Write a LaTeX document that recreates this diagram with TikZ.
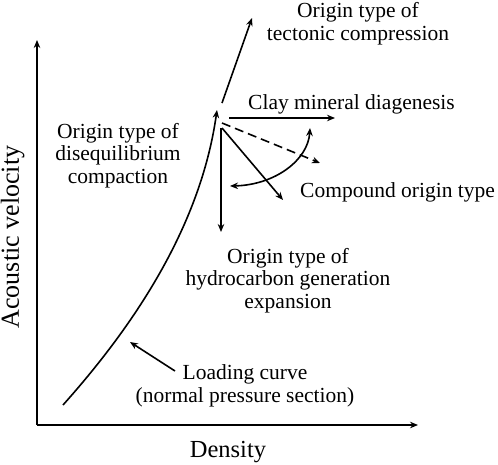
\documentclass[tikz,border=0pt]{standalone}
\usepackage{fontspec}
\setmainfont{Liberation Serif}
\usetikzlibrary{arrows.meta}
\begin{document}
\begin{tikzpicture}[x=1pt,y=-1pt,
  lbl/.style={inner sep=0pt,align=center,font=\fontsize{21.5}{22.5}\selectfont},
  axlbl/.style={inner sep=0pt,font=\fontsize{24.5}{26}\selectfont},
  conn/.style={line width=1.6pt,-{Stealth[length=8pt,width=6.5pt]}},
  axis/.style={line width=1.8pt,-{Stealth[length=8pt,width=6.5pt]}}]
\useasboundingbox (0,0) rectangle (498,464);
% axes
\coordinate (o) at (37,425);
\coordinate (ytop) at (37,40);
\coordinate (xend) at (418,425);
\draw[axis] (o) -- (ytop);
\draw[axis] (o) -- (xend);
\node[axlbl,anchor=base] (dens) at (228,457) {Density};
\node[axlbl,rotate=90,anchor=base,font=\fontsize{26}{28}\selectfont] (vel) at (19,237) {Acoustic velocity};
% loading curve
\coordinate (c0) at (63,405);
\coordinate (c1) at (217,110);
\draw[conn] (c0) .. controls (130,330) and (200,230) .. (c1);
% arrows from the cusp
\coordinate (t0) at (222,103);
\coordinate (t1) at (252,18);
\draw[conn] (t0) -- (t1);
\coordinate (cl0) at (229,118);
\coordinate (cl1) at (335,118);
\draw[conn] (cl0) -- (cl1);
\coordinate (d0) at (222,123);
\coordinate (d1) at (320,163);
\draw[conn,dashed,dash pattern=on 9pt off 5pt] (d0) -- (d1);
\coordinate (v0) at (221,128);
\coordinate (v1) at (221,232);
\draw[conn] (v0) -- (v1);
\coordinate (g0) at (222,128);
\coordinate (g1) at (283,200);
\draw[conn] (g0) -- (g1);
\coordinate (a0) at (230,186);
\coordinate (a1) at (310,128);
\draw[conn,{Stealth[length=8pt,width=6.5pt]}-{Stealth[length=8pt,width=6.5pt]}] (a0) .. controls (275,185) and (308,160) .. (a1);
% leader
\coordinate (l0) at (175,371);
\coordinate (l1) at (130,342);
\draw[conn] (l0) -- (l1);
% labels
\node[lbl,anchor=base] (tect) at (358,40) {Origin type of\\tectonic compression};
\node[lbl,anchor=base west] (clay) at (248,109) {Clay mineral diagenesis};
\node[lbl,anchor=base west] (comp) at (300,197) {Compound origin type};
\node[lbl,anchor=base] (diseq) at (118,183) {Origin type of\\disequilibrium\\compaction};
\node[lbl,anchor=base] (hydro) at (288,308) {Origin type of\\hydrocarbon generation\\expansion};
\node[lbl,anchor=base] (load) at (245,402) {Loading curve\\(normal pressure section)};
\end{tikzpicture}
\end{document}
